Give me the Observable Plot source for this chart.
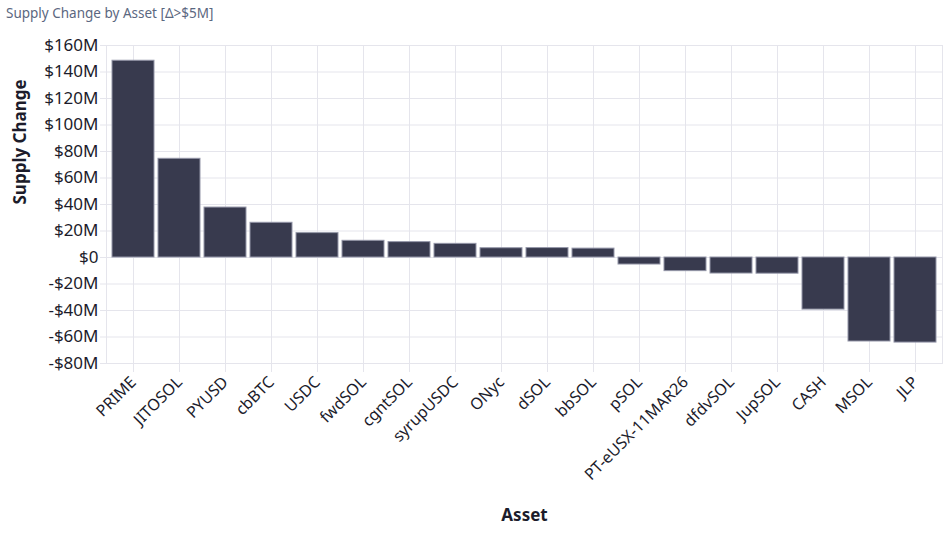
<!DOCTYPE html>
<html>
<head>
<meta charset="utf-8">
<script src="https://cdn.jsdelivr.net/npm/d3@7"></script>
<script src="https://cdn.jsdelivr.net/npm/@observablehq/plot@0.6"></script>
<style>
  html, body { margin: 0; padding: 0; background: #fff; }
  #title { height: 25px; font-family: "Noto Sans", sans-serif; font-size: 13.5px; color: #5b6780; padding-left: 6px; line-height: 26px; box-sizing: border-box; }
  svg { display: block; }
</style>
</head>
<body>
<div id="title">Supply Change by Asset [Δ&gt;$5M]</div>
<div id="chart"></div>
<script>
const assets = ["PRIME","JITOSOL","PYUSD","cbBTC","USDC","fwdSOL","cgntSOL","syrupUSDC","ONyc","dSOL","bbSOL","pSOL","PT-eUSX-11MAR26","dfdvSOL","JupSOL","CASH","MSOL","JLP"];
const supplyChangeM = [148.5, 74.5, 37.7, 26.2, 18.4, 12.6, 11.6, 10.3, 7.0, 7.1, 6.7, -5.3, -10.3, -12.1, -12.2, -39.3, -63.4, -64.2];
const yTicksM = [-80, -60, -40, -20, 0, 20, 40, 60, 80, 100, 120, 140, 160];

const data = assets.map((a, i) => ({asset: a, value: supplyChangeM[i]}));
const grid = "#e5e5ec";
const ink = "#1c1c2b";
const fmt = d => d < 0 ? `-$${-d}M` : `$${d}${d === 0 ? "" : "M"}`;

const chart = Plot.plot({
  width: 952,
  height: 508,
  marginTop: 20,
  marginBottom: 170,
  marginLeft: 106,
  marginRight: 10,
  style: {fontFamily: "Noto Sans, sans-serif", background: "#fff"},
  x: {domain: assets, padding: 0.09, label: null},
  y: {domain: [-80, 160], label: null},
  marks: [
    Plot.gridY(yTicksM, {stroke: grid, strokeOpacity: 1}),
    Plot.gridX(assets, {stroke: grid, strokeOpacity: 1}),
    Plot.frame({stroke: grid}),
    Plot.barY(data, {x: "asset", y: "value", fill: "#383a4e", stroke: "#9496a8", strokeWidth: 1}),
    Plot.axisY(yTicksM, {tickFormat: fmt, tickSize: 6, stroke: grid, fill: ink, fontSize: 17, tickPadding: 2, label: null}),
    Plot.axisX({tickRotate: -45, tickSize: 9, stroke: grid, fill: ink, fontSize: 16, tickPadding: 7, label: null}),
    Plot.text(["Supply Change"], {frameAnchor: "left", dx: -86, rotate: -90, fontSize: 17, fontWeight: "bold", fill: ink}),
    Plot.text(["Asset"], {frameAnchor: "bottom", dy: 157, fontSize: 17, fontWeight: "bold", fill: ink})
  ]
});
document.getElementById("chart").appendChild(chart);
</script>
</body>
</html>
